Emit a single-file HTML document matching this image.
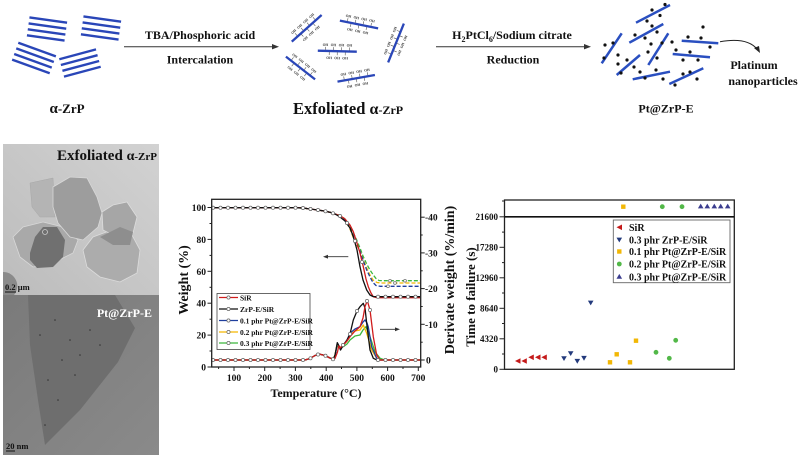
<!DOCTYPE html>
<html>
<head>
<meta charset="utf-8">
<style>
html,body{margin:0;padding:0;background:#fff;}
svg{display:block;}
text{font-family:"Liberation Serif","DejaVu Serif",serif;font-weight:bold;}
</style>
</head>
<body>
<svg width="798" height="458" viewBox="0 0 798 458" xmlns="http://www.w3.org/2000/svg">
<rect width="798" height="458" fill="#fff"/>

<!-- ===== Top scheme ===== -->
<g stroke="#2a46b8" stroke-width="2.4" stroke-linecap="butt">
  <g transform="translate(47,29) rotate(8)">
    <line x1="-19" y1="-9" x2="19" y2="-9"/><line x1="-19" y1="-3" x2="19" y2="-3"/><line x1="-19" y1="3" x2="19" y2="3"/><line x1="-19" y1="9" x2="19" y2="9"/>
  </g>
  <g transform="translate(101,28) rotate(8)">
    <line x1="-19" y1="-9" x2="19" y2="-9"/><line x1="-19" y1="-3" x2="19" y2="-3"/><line x1="-19" y1="3" x2="19" y2="3"/><line x1="-19" y1="9" x2="19" y2="9"/>
  </g>
  <g transform="translate(34,58) rotate(20)">
    <line x1="-20" y1="-9" x2="20" y2="-9"/><line x1="-20" y1="-3" x2="20" y2="-3"/><line x1="-20" y1="3" x2="20" y2="3"/><line x1="-20" y1="9" x2="20" y2="9"/>
  </g>
  <g transform="translate(80,63) rotate(-15)">
    <line x1="-19" y1="-9" x2="19" y2="-9"/><line x1="-19" y1="-3" x2="19" y2="-3"/><line x1="-19" y1="3" x2="19" y2="3"/><line x1="-19" y1="9" x2="19" y2="9"/>
  </g>
</g>
<text x="67" y="113" font-size="13" text-anchor="middle" fill="#111"><tspan font-size="15">α</tspan>-ZrP</text>

<!-- arrow 1 -->
<line x1="124" y1="46.7" x2="273" y2="46.7" stroke="#333" stroke-width="1"/>
<polygon points="272,44 279,46.7 272,49.4" fill="#333"/>
<text x="200" y="39" font-size="12" text-anchor="middle" fill="#111">TBA/Phosphoric acid</text>
<text x="200" y="63.5" font-size="12" text-anchor="middle" fill="#111">Intercalation</text>

<!-- exfoliated sheets -->
<g font-size="3.6" fill="#333" text-anchor="middle" font-weight="normal">
  <g transform="translate(306.7,28.3) rotate(-41.7)">
    <line x1="-20" y1="0" x2="20" y2="0" stroke="#2a46b8" stroke-width="2.3"/>
    <g stroke="#555" stroke-width="0.6"><line x1="-12" y1="-1" x2="-12" y2="-4"/><line x1="-4" y1="-1" x2="-4" y2="-4"/><line x1="4" y1="-1" x2="4" y2="-4"/><line x1="12" y1="-1" x2="12" y2="-4"/><line x1="-8" y1="1" x2="-8" y2="4"/><line x1="0" y1="1" x2="0" y2="4"/><line x1="8" y1="1" x2="8" y2="4"/></g>
    <text x="-12" y="-5">OH</text><text x="-4" y="-5">OH</text><text x="4" y="-5">OH</text><text x="12" y="-5">OH</text><text x="-8" y="8">OH</text><text x="0" y="8">OH</text><text x="8" y="8">OH</text>
  </g>
  <g transform="translate(359,24.5) rotate(11.3)">
    <line x1="-19.5" y1="0" x2="19.5" y2="0" stroke="#2a46b8" stroke-width="2.3"/>
    <g stroke="#555" stroke-width="0.6"><line x1="-12" y1="-1" x2="-12" y2="-4"/><line x1="-4" y1="-1" x2="-4" y2="-4"/><line x1="4" y1="-1" x2="4" y2="-4"/><line x1="12" y1="-1" x2="12" y2="-4"/><line x1="-8" y1="1" x2="-8" y2="4"/><line x1="0" y1="1" x2="0" y2="4"/><line x1="8" y1="1" x2="8" y2="4"/></g>
    <text x="-12" y="-5">OH</text><text x="-4" y="-5">OH</text><text x="4" y="-5">OH</text><text x="12" y="-5">OH</text><text x="-8" y="8">OH</text><text x="0" y="8">OH</text><text x="8" y="8">OH</text>
  </g>
  <g transform="translate(337.3,51.2) rotate(1.5)">
    <line x1="-19.5" y1="0" x2="19.5" y2="0" stroke="#2a46b8" stroke-width="2.3"/>
    <g stroke="#555" stroke-width="0.6"><line x1="-12" y1="-1" x2="-12" y2="-4"/><line x1="-4" y1="-1" x2="-4" y2="-4"/><line x1="4" y1="-1" x2="4" y2="-4"/><line x1="12" y1="-1" x2="12" y2="-4"/><line x1="-8" y1="1" x2="-8" y2="4"/><line x1="0" y1="1" x2="0" y2="4"/><line x1="8" y1="1" x2="8" y2="4"/></g>
    <text x="-12" y="-5">OH</text><text x="-4" y="-5">OH</text><text x="4" y="-5">OH</text><text x="12" y="-5">OH</text><text x="-8" y="8">OH</text><text x="0" y="8">OH</text><text x="8" y="8">OH</text>
  </g>
  <g transform="translate(300.5,68) rotate(38)">
    <line x1="-18.5" y1="0" x2="18.5" y2="0" stroke="#2a46b8" stroke-width="2.3"/>
    <g stroke="#555" stroke-width="0.6"><line x1="-12" y1="-1" x2="-12" y2="-4"/><line x1="-4" y1="-1" x2="-4" y2="-4"/><line x1="4" y1="-1" x2="4" y2="-4"/><line x1="12" y1="-1" x2="12" y2="-4"/><line x1="-8" y1="1" x2="-8" y2="4"/><line x1="0" y1="1" x2="0" y2="4"/><line x1="8" y1="1" x2="8" y2="4"/></g>
    <text x="-12" y="-5">OH</text><text x="-4" y="-5">OH</text><text x="4" y="-5">OH</text><text x="12" y="-5">OH</text><text x="-8" y="8">OH</text><text x="0" y="8">OH</text><text x="8" y="8">OH</text>
  </g>
  <g transform="translate(356.2,78.3) rotate(-10)">
    <line x1="-19" y1="0" x2="19" y2="0" stroke="#2a46b8" stroke-width="2.3"/>
    <g stroke="#555" stroke-width="0.6"><line x1="-12" y1="-1" x2="-12" y2="-4"/><line x1="-4" y1="-1" x2="-4" y2="-4"/><line x1="4" y1="-1" x2="4" y2="-4"/><line x1="12" y1="-1" x2="12" y2="-4"/><line x1="-8" y1="1" x2="-8" y2="4"/><line x1="0" y1="1" x2="0" y2="4"/><line x1="8" y1="1" x2="8" y2="4"/></g>
    <text x="-12" y="-5">OH</text><text x="-4" y="-5">OH</text><text x="4" y="-5">OH</text><text x="12" y="-5">OH</text><text x="-8" y="8">OH</text><text x="0" y="8">OH</text><text x="8" y="8">OH</text>
  </g>
  <g transform="translate(396,43) rotate(-68)">
    <line x1="-21" y1="0" x2="21" y2="0" stroke="#2a46b8" stroke-width="2.3"/>
    <g stroke="#555" stroke-width="0.6"><line x1="-12" y1="-1" x2="-12" y2="-4"/><line x1="-4" y1="-1" x2="-4" y2="-4"/><line x1="4" y1="-1" x2="4" y2="-4"/><line x1="12" y1="-1" x2="12" y2="-4"/><line x1="-8" y1="1" x2="-8" y2="4"/><line x1="0" y1="1" x2="0" y2="4"/><line x1="8" y1="1" x2="8" y2="4"/></g>
    <text x="-12" y="-5">OH</text><text x="-4" y="-5">OH</text><text x="4" y="-5">OH</text><text x="12" y="-5">OH</text><text x="-8" y="8">OH</text><text x="0" y="8">OH</text><text x="8" y="8">OH</text>
  </g>
</g>
<text x="293" y="114" font-size="16.5" fill="#111">Exfoliated <tspan font-size="16">α</tspan><tspan font-size="12">-ZrP</tspan></text>

<!-- arrow 2 -->
<line x1="436" y1="46.7" x2="585" y2="46.7" stroke="#333" stroke-width="1"/>
<polygon points="584,44 591,46.7 584,49.4" fill="#333"/>
<text x="512" y="39" font-size="12" text-anchor="middle" fill="#111">H<tspan font-size="8" dy="3">2</tspan><tspan dy="-3">PtCl</tspan><tspan font-size="8" dy="3">6</tspan><tspan dy="-3">/Sodium citrate</tspan></text>
<text x="513" y="63.5" font-size="12" text-anchor="middle" fill="#111">Reduction</text>

<!-- Pt@ZrP-E -->
<g stroke="#2a4fc0" stroke-width="2.5" stroke-linecap="butt">
  <line x1="636" y1="22.7" x2="670" y2="5"/>
  <line x1="629.3" y1="42.7" x2="663.3" y2="24"/>
  <line x1="601.7" y1="63.3" x2="621.7" y2="33.3"/>
  <line x1="648.3" y1="65" x2="668.3" y2="33.3"/>
  <line x1="681.7" y1="40.7" x2="718.3" y2="43.3"/>
  <line x1="672.7" y1="54" x2="710" y2="57.3"/>
  <line x1="616.7" y1="75" x2="640" y2="55"/>
  <line x1="632.7" y1="79.3" x2="670" y2="71.7"/>
  <line x1="669.3" y1="84" x2="703.3" y2="68.3"/>
</g>
<g fill="#111">
  <circle cx="665" cy="4.5" r="1.6"/><circle cx="652" cy="10" r="1.6"/><circle cx="660" cy="15.5" r="1.6"/><circle cx="647" cy="21" r="1.6"/>
  <circle cx="635" cy="35" r="1.6"/><circle cx="645" cy="38" r="1.6"/><circle cx="652" cy="26" r="1.6"/><circle cx="657" cy="32" r="1.6"/>
  <circle cx="605" cy="45" r="1.6"/><circle cx="613" cy="43" r="1.6"/><circle cx="604" cy="58" r="1.6"/><circle cx="618" cy="55" r="1.6"/>
  <circle cx="648" cy="52" r="1.6"/><circle cx="662" cy="43" r="1.6"/><circle cx="657" cy="58" r="1.6"/><circle cx="651" cy="44" r="1.6"/>
  <circle cx="672" cy="42" r="1.6"/><circle cx="688" cy="37" r="1.6"/><circle cx="701" cy="38" r="1.6"/><circle cx="703" cy="27" r="1.6"/><circle cx="710" cy="47" r="1.6"/>
  <circle cx="676" cy="50" r="1.6"/><circle cx="690" cy="52" r="1.6"/><circle cx="683" cy="60" r="1.6"/><circle cx="698" cy="60" r="1.6"/>
  <circle cx="618" cy="64" r="1.6"/><circle cx="627" cy="60" r="1.6"/><circle cx="621" cy="73" r="1.6"/><circle cx="634" cy="67" r="1.6"/>
  <circle cx="645" cy="78" r="1.6"/><circle cx="656" cy="70" r="1.6"/><circle cx="663" cy="79" r="1.6"/><circle cx="640" cy="72" r="1.6"/>
  <circle cx="675" cy="85" r="1.6"/><circle cx="690" cy="72" r="1.6"/><circle cx="697" cy="79" r="1.6"/><circle cx="683" cy="74" r="1.6"/>
</g>
<path d="M720,41.7 Q747,37 757,49" fill="none" stroke="#222" stroke-width="1"/>
<polygon points="754,48 760,53 759,46" fill="#222"/>
<text x="754" y="69" font-size="12" text-anchor="middle" fill="#111">Platinum</text>
<text x="763" y="85" font-size="12" text-anchor="middle" fill="#111">nanoparticles</text>
<text x="666" y="112.5" font-size="12" text-anchor="middle" fill="#111">Pt@ZrP-E</text>

<!-- ===== TEM panel ===== -->
<defs>
  <linearGradient id="tembg" x1="0" y1="1" x2="1" y2="0">
    <stop offset="0" stop-color="#bcbcbc"/>
    <stop offset="1" stop-color="#d2d2d2"/>
  </linearGradient>
  <linearGradient id="tembg2" x1="0" y1="0" x2="1" y2="1">
    <stop offset="0" stop-color="#7a7a7a"/>
    <stop offset="1" stop-color="#8a8a8a"/>
  </linearGradient>
</defs>
<rect x="3" y="144" width="156" height="151" fill="url(#tembg)"/>
<polygon points="30,183 53,178 55,217 40,217 32,207" fill="#b4b4b4" stroke="#a8a8a8" stroke-width="0.5"/>
<polygon points="83,250 93,237 117,228 132,235 140,250 137,273 120,282 100,277 87,267" fill="#acacac" stroke="#dcdcdc" stroke-width="0.8"/>
<polygon points="102,212 113,205 127,202 137,217 133,233 117,237 103,230" fill="#a6a6a6" stroke="#dcdcdc" stroke-width="0.8"/>
<polygon points="100,237 120,227 133,232 130,245 113,245" fill="#8e8e8e"/>
<polygon points="13,237 23,227 43,222 63,227 78,240 73,253 53,263 33,267 20,257" fill="#a9a9a9" stroke="#d8d8d8" stroke-width="0.8"/>
<polygon points="53,187 70,177 87,178 97,197 102,213 98,227 83,240 70,237 58,223 53,207" fill="#9d9d9d" stroke="#d8d8d8" stroke-width="0.8"/>
<polygon points="30,253 35,237 43,227 57,227 65,240 63,257 53,267 37,268 30,260" fill="#707070"/>
<circle cx="45" cy="232" r="2.5" fill="none" stroke="#ccc" stroke-width="0.8"/>
<path d="M3,272 A14,14 0 0,1 14,295 L3,295 Z" fill="#8a8a8a"/>
<text x="157" y="160" font-size="15" text-anchor="end" fill="#111">Exfoliated <tspan font-size="14">α</tspan><tspan font-size="11">-ZrP</tspan></text>
<text x="5" y="290" font-size="8.5" font-weight="normal" fill="#111">0.2 μm</text>
<line x1="5" y1="292" x2="16" y2="292" stroke="#111" stroke-width="1"/>

<rect x="3" y="295" width="156" height="160" fill="url(#tembg2)"/>
<polygon points="28,295 115,295 135,328 118,362 80,410 45,445 38,400 30,345" fill="#6e6e6e"/>
<g fill="#333">
  <circle cx="55" cy="320" r="0.8"/><circle cx="70" cy="340" r="0.8"/><circle cx="62" cy="360" r="0.8"/><circle cx="80" cy="355" r="0.8"/>
  <circle cx="48" cy="380" r="0.8"/><circle cx="90" cy="330" r="0.8"/><circle cx="58" cy="400" r="0.8"/><circle cx="100" cy="345" r="0.8"/>
  <circle cx="45" cy="425" r="0.8"/><circle cx="75" cy="375" r="0.8"/><circle cx="105" cy="315" r="0.8"/><circle cx="40" cy="335" r="0.8"/>
</g>
<text x="152" y="317" font-size="12" text-anchor="end" fill="#fff">Pt@ZrP-E</text>
<text x="6" y="449" font-size="8.5" font-weight="normal" fill="#111">20 nm</text>
<line x1="6" y1="451" x2="15" y2="451" stroke="#111" stroke-width="1"/>

<!-- ===== Middle chart (TGA/DTG) ===== -->
<g stroke="#222" stroke-width="1">
  <!-- left ticks -->
  <line x1="207.5" y1="367" x2="211.7" y2="367"/><line x1="207.5" y1="335.1" x2="211.7" y2="335.1"/><line x1="207.5" y1="303.2" x2="211.7" y2="303.2"/><line x1="207.5" y1="271.3" x2="211.7" y2="271.3"/><line x1="207.5" y1="239.4" x2="211.7" y2="239.4"/><line x1="207.5" y1="207.5" x2="211.7" y2="207.5"/>
  <line x1="209.5" y1="351" x2="211.7" y2="351"/><line x1="209.5" y1="319.2" x2="211.7" y2="319.2"/><line x1="209.5" y1="287.3" x2="211.7" y2="287.3"/><line x1="209.5" y1="255.4" x2="211.7" y2="255.4"/><line x1="209.5" y1="223.5" x2="211.7" y2="223.5"/>
  <!-- bottom ticks -->
  <line x1="234" y1="367" x2="234" y2="371"/><line x1="264.7" y1="367" x2="264.7" y2="371"/><line x1="295.4" y1="367" x2="295.4" y2="371"/><line x1="326.2" y1="367" x2="326.2" y2="371"/><line x1="356.9" y1="367" x2="356.9" y2="371"/><line x1="387.6" y1="367" x2="387.6" y2="371"/><line x1="418.3" y1="367" x2="418.3" y2="371"/>
  <line x1="218.6" y1="367" x2="218.6" y2="369"/><line x1="249.4" y1="367" x2="249.4" y2="369"/><line x1="280.1" y1="367" x2="280.1" y2="369"/><line x1="310.8" y1="367" x2="310.8" y2="369"/><line x1="341.5" y1="367" x2="341.5" y2="369"/><line x1="372.3" y1="367" x2="372.3" y2="369"/><line x1="403" y1="367" x2="403" y2="369"/>
  <!-- right ticks -->
  <line x1="420.7" y1="360" x2="424.7" y2="360"/><line x1="420.7" y1="324.3" x2="424.7" y2="324.3"/><line x1="420.7" y1="288.6" x2="424.7" y2="288.6"/><line x1="420.7" y1="252.9" x2="424.7" y2="252.9"/><line x1="420.7" y1="217.2" x2="424.7" y2="217.2"/>
  <line x1="420.7" y1="342.2" x2="422.7" y2="342.2"/><line x1="420.7" y1="306.5" x2="422.7" y2="306.5"/><line x1="420.7" y1="270.8" x2="422.7" y2="270.8"/><line x1="420.7" y1="235" x2="422.7" y2="235"/>
</g>
<g font-size="9.5" fill="#111" text-anchor="end">
  <text x="206" y="370.5">0</text><text x="206" y="338.6">20</text><text x="206" y="306.7">40</text><text x="206" y="274.8">60</text><text x="206" y="242.9">80</text><text x="206" y="211">100</text>
</g>
<g font-size="9.5" fill="#111" text-anchor="middle">
  <text x="234" y="381">100</text><text x="264.7" y="381">200</text><text x="295.4" y="381">300</text><text x="326.2" y="381">400</text><text x="356.9" y="381">500</text><text x="387.6" y="381">600</text><text x="418.3" y="381">700</text>
</g>
<g font-size="9.5" fill="#111">
  <text x="426" y="363.5">0</text><text x="425" y="327.8">-10</text><text x="425" y="292.1">-20</text><text x="425" y="256.4">-30</text><text x="425" y="220.7">-40</text>
</g>
<text x="316" y="397" font-size="12" text-anchor="middle" fill="#111">Temperature (°C)</text>
<text transform="translate(188,280) rotate(-90)" font-size="14" text-anchor="middle" fill="#111">Weight (%)</text>
<text transform="translate(454,280) rotate(-90)" font-size="14" text-anchor="middle" fill="#111">Derivate weight (%/min)</text>

<!-- TGA curves -->
<g fill="none" stroke-width="1.3" stroke-linejoin="round">
  <polyline stroke="#3cb83c" stroke-dasharray="4,2" points="213,207.7 295,207.7 303,208 310,209 318,210 325,211.2 330,212.3 335,214 340,215 345,219 350,226 356.7,240 360,248 363,256 366.7,264 370,270 373.3,275 376,278.5 379,280.5 383,280.7 420,280.7"/>
  <polyline stroke="#f5b800" stroke-dasharray="4,2" points="213,207.7 295,207.7 303,208 310,209 318,210 325,211.2 330,212.3 335,214 340,216 345,220 350,229 355,242 360,251 363,259 366.7,268 370,275 373,280 377,282.5 381,283 420,283"/>
  <polyline stroke="#1f3f9e" stroke-dasharray="4,2" points="213,207.7 295,207.7 303,208 310,209 318,210 325,211.2 330,212.3 335,214 340,216 345,220 350,228 355,240 360,251 363,260 366.7,270 370,277 373,282.5 376,285.5 380,286.3 420,286.3"/>
  <polyline stroke="#d01c1c" points="213,207.7 295,207.7 303,208 310,209 318,210 325,211.2 330,212.3 335,214 340,215.5 345,219 350,225 353.3,231.7 357,243 360,253 363.3,266.7 366,279 368.3,286.7 371,293 373.3,296.7 377,297.7 420,297.7"/>
  <polyline stroke="#111" points="213,207.7 295,207.7 303,208 310,209 318,210 325,211.2 330,212.3 335,214 340,217 345,221 350,228 353.3,236.7 357,250 360,266.7 363,280 366.7,290 370,295 373,296.5 378,296.7 420,296.7"/>
</g>
<!-- DTG curves -->
<g fill="none" stroke-width="1.3" stroke-linejoin="round">
  <polyline stroke="#3cb83c" points="213,360 305,360 310,358.5 315,355.5 320,354.3 325,355.5 330,358 333.3,359.3 335,355 337,346 340,348 343.3,346.7 347,344 350,340 355,336 360,335 363,330 366,326.7 370,336.7 375,351.7 380,358.3 385,360 420,360"/>
  <polyline stroke="#f5b800" points="213,360 305,360 310,358.5 315,355.5 320,354.3 325,355.5 330,358 333.3,359.3 335,355 337.3,344 339,346 341,348 343.3,345 347,341 350,335 355,331 360,330 363.3,325 366.7,333.3 371.7,350 376.7,358.3 380,360 420,360"/>
  <polyline stroke="#1f3f9e" points="213,360 305,360 310,358.5 315,355.5 320,354.3 325,355.5 330,358 333.3,359.3 335,357 337.3,343 339,346 341,349 343.3,345 347,340 350,333.3 355,329 360,326.7 363,322 365,320 367,323 368.3,327 371.7,346.7 376.7,358.3 380,360 420,360"/>
  <polyline stroke="#111" points="213,360 305,360 310,358.5 315,355.5 320,354.3 325,355.5 330,358 333.3,359.3 335,355 337.3,342.7 339,346 340.5,350 343.3,345 347,340 350,334 353.3,320 357,311 360,306.7 363.3,303.3 365,308 366.7,323.3 368.5,338 370,350 373.3,358.3 377,360 420,360"/>
  <polyline stroke="#d01c1c" points="213,360 305,360 310,358.5 315,355.5 320,354.3 325,355.5 330,358 333.3,359.3 335,358.5 337.5,352 338.7,346 340,348 343.3,345 347,341 350,336.7 355,331 360,326.7 363,318 365,306.7 367.3,300.7 370,310 373.3,336.7 376.7,355 380,360 420,360"/>
</g>
<!-- markers -->
<g fill="#fff" stroke="#666" stroke-width="0.7">
  <circle cx="213" cy="207.7" r="1.6"/><circle cx="220.5" cy="207.7" r="1.6"/><circle cx="228" cy="207.7" r="1.6"/><circle cx="235.5" cy="207.7" r="1.6"/><circle cx="243" cy="207.7" r="1.6"/><circle cx="250.5" cy="207.7" r="1.6"/><circle cx="258" cy="207.7" r="1.6"/><circle cx="265.5" cy="207.7" r="1.6"/><circle cx="273" cy="207.7" r="1.6"/><circle cx="280.5" cy="207.7" r="1.6"/><circle cx="288" cy="207.7" r="1.6"/><circle cx="295.5" cy="207.7" r="1.6"/><circle cx="303" cy="208" r="1.6"/><circle cx="310.5" cy="209" r="1.6"/><circle cx="318" cy="210" r="1.6"/><circle cx="325.5" cy="211.3" r="1.6"/><circle cx="333" cy="213.3" r="1.6"/><circle cx="340" cy="216" r="1.6"/><circle cx="347" cy="223" r="1.6"/><circle cx="355" cy="241" r="1.6"/><circle cx="362" cy="262" r="1.6"/>
  <circle cx="378" cy="296.7" r="1.6"/><circle cx="385.5" cy="296.7" r="1.6"/><circle cx="393" cy="296.7" r="1.6"/><circle cx="400.5" cy="296.7" r="1.6"/><circle cx="408" cy="296.7" r="1.6"/><circle cx="415.5" cy="296.7" r="1.6"/>
  <circle cx="390" cy="280.7" r="1.4"/><circle cx="405" cy="280.7" r="1.4"/><circle cx="395" cy="283" r="1.4"/><circle cx="388" cy="286.3" r="1.4"/>
  <circle cx="213" cy="360" r="1.6"/><circle cx="220.5" cy="360" r="1.6"/><circle cx="228" cy="360" r="1.6"/><circle cx="235.5" cy="360" r="1.6"/><circle cx="243" cy="360" r="1.6"/><circle cx="250.5" cy="360" r="1.6"/><circle cx="258" cy="360" r="1.6"/><circle cx="265.5" cy="360" r="1.6"/><circle cx="273" cy="360" r="1.6"/><circle cx="280.5" cy="360" r="1.6"/><circle cx="288" cy="360" r="1.6"/><circle cx="295.5" cy="360" r="1.6"/><circle cx="303" cy="360" r="1.6"/><circle cx="310.5" cy="358.3" r="1.6"/><circle cx="318" cy="354.5" r="1.6"/><circle cx="325.5" cy="355.7" r="1.6"/><circle cx="333" cy="359.2" r="1.6"/><circle cx="343" cy="345" r="1.6"/><circle cx="350" cy="334" r="1.6"/><circle cx="357" cy="311" r="1.6"/><circle cx="367" cy="301" r="1.6"/><circle cx="370" cy="310" r="1.6"/>
  <circle cx="378" cy="360" r="1.6"/><circle cx="385.5" cy="360" r="1.6"/><circle cx="393" cy="360" r="1.6"/><circle cx="400.5" cy="360" r="1.6"/><circle cx="408" cy="360" r="1.6"/><circle cx="415.5" cy="360" r="1.6"/>
</g>
<!-- frame -->
<rect x="211.7" y="199.3" width="209" height="167.7" fill="none" stroke="#222" stroke-width="1.3"/>
<!-- arrows -->
<line x1="326" y1="256.7" x2="348.3" y2="256.7" stroke="#333" stroke-width="0.9"/>
<polygon points="323,256.7 328,254.8 328,258.6" fill="#333"/>
<line x1="380" y1="329.3" x2="397" y2="329.3" stroke="#333" stroke-width="0.9"/>
<polygon points="400,329.3 395,327.4 395,331.2" fill="#333"/>
<!-- legend -->
<rect x="217" y="293.5" width="93" height="56" fill="#fff" stroke="#444" stroke-width="0.8"/>
<g stroke-width="1.3">
  <line x1="219" y1="297.5" x2="238" y2="297.5" stroke="#d01c1c"/>
  <line x1="219" y1="309" x2="238" y2="309" stroke="#111"/>
  <line x1="219" y1="320.5" x2="238" y2="320.5" stroke="#1f3f9e"/>
  <line x1="219" y1="332" x2="238" y2="332" stroke="#f5b800"/>
  <line x1="219" y1="343" x2="238" y2="343" stroke="#3cb83c"/>
</g>
<g fill="#fff" stroke="#666" stroke-width="0.7">
  <circle cx="228.5" cy="297.5" r="1.6"/><circle cx="228.5" cy="309" r="1.6"/><circle cx="228.5" cy="320.5" r="1.6"/><circle cx="228.5" cy="332" r="1.6"/><circle cx="228.5" cy="343" r="1.6"/>
</g>
<g font-size="7.5" fill="#111">
  <text x="240" y="300.3">SiR</text>
  <text x="240" y="311.8">ZrP-E/SiR</text>
  <text x="240" y="323.3">0.1 phr Pt@ZrP-E/SiR</text>
  <text x="240" y="334.8">0.2 phr Pt@ZrP-E/SiR</text>
  <text x="240" y="345.8">0.3 phr Pt@ZrP-E/SiR</text>
</g>

<!-- ===== Right chart ===== -->
<rect x="504.5" y="200" width="229.8" height="169.3" fill="none" stroke="#222" stroke-width="1.3"/>
<line x1="504.5" y1="216.8" x2="734.3" y2="216.8" stroke="#111" stroke-width="1.6"/>
<g stroke="#222" stroke-width="1">
  <line x1="499.5" y1="369.3" x2="504.5" y2="369.3"/><line x1="499.5" y1="338.8" x2="504.5" y2="338.8"/><line x1="499.5" y1="308.3" x2="504.5" y2="308.3"/><line x1="499.5" y1="277.8" x2="504.5" y2="277.8"/><line x1="499.5" y1="247.3" x2="504.5" y2="247.3"/><line x1="499.5" y1="216.8" x2="504.5" y2="216.8"/>
  <line x1="502" y1="354" x2="504.5" y2="354"/><line x1="502" y1="323.5" x2="504.5" y2="323.5"/><line x1="502" y1="293" x2="504.5" y2="293"/><line x1="502" y1="262.6" x2="504.5" y2="262.6"/><line x1="502" y1="232.1" x2="504.5" y2="232.1"/>
  <line x1="502" y1="201" x2="504.5" y2="201"/>
</g>
<g font-size="9" fill="#111" text-anchor="end">
  <text x="498" y="372.5">0</text><text x="498" y="342">4320</text><text x="498" y="311.5">8640</text><text x="498" y="281">12960</text><text x="498" y="250.5">17280</text><text x="498" y="220">21600</text>
</g>
<text transform="translate(475,297) rotate(-90)" font-size="13" text-anchor="middle" fill="#111">Time to failure (s)</text>

<!-- data points -->
<g fill="#c41a1a">
  <polygon points="515,361 520.5,358.2 520.5,363.8"/>
  <polygon points="521.3,361 526.8,358.2 526.8,363.8"/>
  <polygon points="528.3,357.3 533.8,354.5 533.8,360.1"/>
  <polygon points="535,357.3 540.5,354.5 540.5,360.1"/>
  <polygon points="541.3,357.3 546.8,354.5 546.8,360.1"/>
</g>
<g fill="#233a7c">
  <polygon points="561.2,356.2 566.8,356.2 564,361"/>
  <polygon points="567.9,351.2 573.5,351.2 570.7,356"/>
  <polygon points="574.5,358.9 580.1,358.9 577.3,363.7"/>
  <polygon points="581.2,355.9 586.8,355.9 584,360.7"/>
  <polygon points="587.9,300.6 593.5,300.6 590.7,305.4"/>
</g>
<g fill="#f2b705">
  <rect x="607.8" y="360.1" width="4.4" height="4.4"/>
  <rect x="614.5" y="352.1" width="4.4" height="4.4"/>
  <rect x="627.8" y="360.1" width="4.4" height="4.4"/>
  <rect x="633.8" y="338.5" width="4.4" height="4.4"/>
  <rect x="621.1" y="204.5" width="4.4" height="4.4"/>
</g>
<g fill="#52b848">
  <circle cx="656" cy="352.3" r="2.4"/><circle cx="669.3" cy="358.3" r="2.4"/><circle cx="675.7" cy="340.3" r="2.4"/>
  <circle cx="662.3" cy="206.7" r="2.4"/><circle cx="682" cy="206.7" r="2.4"/>
</g>
<g fill="#3b3d8f">
  <polygon points="697.9,208.4 703.5,208.4 700.7,203.6"/>
  <polygon points="704.5,208.4 710.1,208.4 707.3,203.6"/>
  <polygon points="711.5,208.4 717.1,208.4 714.3,203.6"/>
  <polygon points="717.9,208.4 723.5,208.4 720.7,203.6"/>
  <polygon points="724.9,208.4 730.5,208.4 727.7,203.6"/>
</g>
<!-- legend -->
<rect x="613.3" y="220" width="116.7" height="62.7" fill="#fff" stroke="#666" stroke-width="0.9"/>
<polygon points="616.5,227.3 622,224.5 622,230.1" fill="#c41a1a"/>
<polygon points="616.5,237.6 622.1,237.6 619.3,242.4" fill="#233a7c"/>
<rect x="617.1" y="249.3" width="4.4" height="4.4" fill="#f2b705"/>
<circle cx="619.3" cy="264" r="2.4" fill="#52b848"/>
<polygon points="616.5,278.7 622.1,278.7 619.3,273.9" fill="#3b3d8f"/>
<g font-size="10" fill="#111">
  <text x="629" y="231">SiR</text>
  <text x="629" y="243.5">0.3 phr ZrP-E/SiR</text>
  <text x="629" y="255">0.1 phr Pt@ZrP-E/SiR</text>
  <text x="629" y="267.5">0.2 phr Pt@ZrP-E/SiR</text>
  <text x="629" y="280.5">0.3 phr Pt@ZrP-E/SiR</text>
</g>
</svg>
</body>
</html>
